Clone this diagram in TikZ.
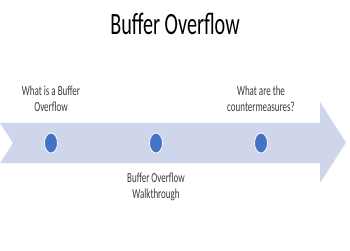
\documentclass[tikz,border=0pt]{standalone}
\usepackage{fontspec}
\setmainfont{Carlito}
\usepackage{tikz}
\usetikzlibrary{positioning}

\definecolor{bandfill}{HTML}{CFD5EA}
\definecolor{dotblue}{HTML}{4472C4}
\definecolor{txtgray}{HTML}{3A3A3A}

\begin{document}
\begin{tikzpicture}[
    x=1pt, y=-1pt,
    node distance=19pt,
    title/.style={xscale=0.65, inner sep=0pt, font=\fontsize{31}{37}\selectfont},
    stop/.style={circle, xscale=0.65, minimum size=20pt, inner sep=0pt, fill=dotblue, draw=white, line width=0.8pt},
    caption/.style={xscale=0.65, align=center, inner sep=0pt, text=txtgray, font=\fontsize{13.8}{16}\selectfont}
]
    \useasboundingbox (0,0) rectangle (350,250);

    % timeline band
    \fill [bandfill] (0,123) -- (320,123) -- (320,102) -- (346,142.5) -- (320,183)
        -- (320,163) -- (0,163) -- (13,143) -- cycle;

    \node [title] (head) at (175,24) {Buffer Overflow};

    \node [stop] (s1) at (51,143) {};
    \node [stop] (s2) at (156,143) {};
    \node [stop] (s3) at (261,143) {};

    \node [caption, above=21pt of s1] (c1) {What is a Buffer\\Overflow};
    \node [caption, below=of s2] (c2) {Buffer Overflow\\Walkthrough};
    \node [caption, above=21pt of s3] (c3) {What are the\\countermeasures?};
\end{tikzpicture}
\end{document}
